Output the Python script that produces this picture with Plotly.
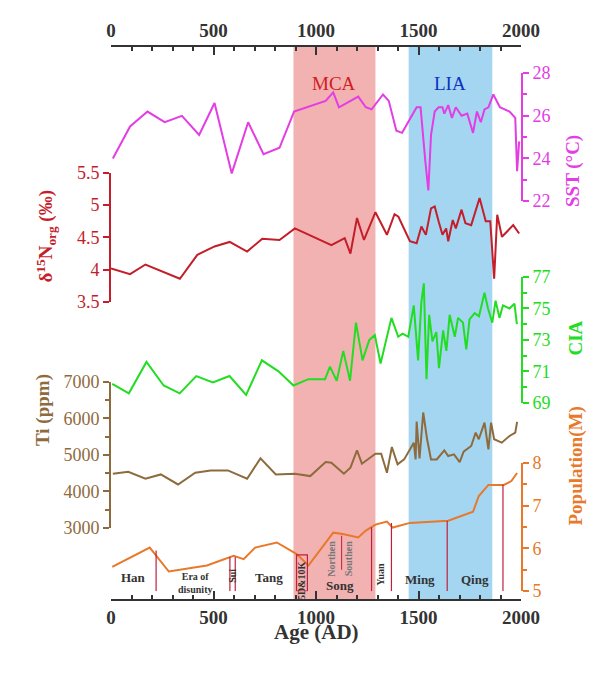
import plotly.graph_objects as go

sst_year = [9,93,178,262,346,430,505,589,669,744,822,893,1047,1084,1112,1206,1243,1271,1327,1355,1392,1420,1491,1510,1533,1548,1561,1579,1598,1617,1626,1645,1663,1682,1710,1738,1766,1785,1804,1822,1841,1865,1897,1944,1972,1981,1991]
sst_val = [24.0,25.5,26.2,25.7,26.0,25.1,26.6,23.3,25.7,24.2,24.5,26.2,26.7,27.1,26.4,26.9,26.4,26.3,27.0,26.7,25.3,25.2,26.4,26.4,23.9,22.5,25.1,26.2,26.4,26.4,26.1,26.5,25.9,26.4,26.0,26.1,25.2,26.2,25.7,26.3,26.4,27.0,26.4,26.2,25.9,23.4,24.8]

n_year = [0,93,168,336,421,505,579,664,738,822,897,1075,1140,1168,1200,1234,1290,1346,1383,1402,1458,1491,1514,1536,1561,1579,1598,1617,1635,1645,1667,1682,1710,1729,1757,1798,1828,1850,1869,1884,1907,1962,1991]
n_val = [4.02,3.93,4.08,3.86,4.23,4.36,4.43,4.28,4.48,4.46,4.64,4.38,4.49,4.25,4.80,4.46,4.89,4.54,4.86,4.82,4.44,4.41,4.67,4.54,4.95,4.98,4.75,4.54,4.64,4.44,4.77,4.64,4.93,4.72,4.69,5.11,4.75,4.75,3.86,4.85,4.51,4.69,4.56]

cia_year = [6,87,173,257,335,416,497,578,659,736,817,890,963,1044,1068,1101,1133,1166,1195,1227,1260,1287,1315,1368,1401,1422,1450,1477,1498,1514,1526,1539,1552,1568,1587,1600,1620,1636,1652,1677,1693,1717,1733,1749,1774,1795,1822,1839,1860,1876,1895,1912,1944,1968,1980]
cia_val = [70.2,69.6,71.6,70.1,69.6,70.7,70.3,70.7,69.5,71.7,71.0,70.1,70.5,70.5,71.3,70.4,72.3,70.4,74.1,71.7,73.0,73.3,71.5,74.4,73.2,73.4,73.2,75.2,71.7,75.4,76.6,70.5,74.6,72.9,73.5,71.2,73.6,72.3,74.6,73.2,74.4,74.1,72.4,74.3,74.7,74.5,76.0,75.0,74.1,75.5,74.4,75.2,75.0,75.3,74.0]

ti_year = [9,84,168,243,327,411,486,570,664,729,804,897,972,1047,1075,1136,1168,1200,1224,1290,1318,1346,1370,1398,1430,1477,1486,1491,1505,1523,1542,1561,1589,1626,1645,1673,1701,1720,1757,1779,1794,1822,1841,1854,1869,1906,1944,1972,1981]
ti_val = [4483,4538,4346,4465,4190,4510,4575,4575,4346,4904,4465,4483,4419,4803,4785,4483,4648,5124,4758,5032,5032,4510,5215,4739,4876,5334,4876,5911,4904,6158,5426,4876,4876,5124,4968,5014,4803,5087,5243,5609,5426,5883,5151,5883,5426,5334,5517,5609,5902]

pop_year = [6,189,282,468,598,647,703,809,906,963,1084,1131,1206,1243,1290,1346,1374,1458,1645,1766,1794,1841,1916,1953,1981]
pop_val = [5.57,6.02,5.46,5.60,5.83,5.75,6.02,6.14,5.87,5.60,6.37,6.34,6.26,6.42,6.56,6.63,6.49,6.60,6.65,6.86,7.23,7.49,7.49,7.58,7.77]

dyn_line_year = [220,580,606,1271,1368,1640,1912]
dyn_line_top = [5.95,5.80,5.80,6.50,6.60,6.65,7.50]
dyn_labels = ["Han","Era of<br>disunity","Sui","Tang","5D&10K","Song","Northen","Southen","Yuan","Ming","Qing"]
dyn_label_year = [111,411,593,773,930,1117,1076,1157,1311,1506,1774]
dyn_label_y = [5.33,5.18,5.35,5.33,5.25,5.14,5.75,5.75,5.40,5.28,5.28]
dyn_label_angle = [0,0,-90,0,-90,0,-90,-90,-90,0,0]
dyn_label_size = [13,10,10,13,10,13,10,10,10,13,13]
dyn_label_color = ["#333","#333","#333","#333","#333","#333","#777","#777","#333","#333","#333"]

SERIF = "Liberation Serif"
C_SST, C_N, C_CIA, C_TI, C_POP = "#E33DE3", "#C41E2A", "#22DD22", "#8E6B3D", "#E8782A"

fig = go.Figure()
fig.add_trace(go.Scatter(x=sst_year, y=sst_val, yaxis="y", mode="lines", line=dict(color=C_SST, width=2)))
fig.add_trace(go.Scatter(x=n_year, y=n_val, yaxis="y2", mode="lines", line=dict(color=C_N, width=2)))
fig.add_trace(go.Scatter(x=cia_year, y=cia_val, yaxis="y3", mode="lines", line=dict(color=C_CIA, width=2)))
fig.add_trace(go.Scatter(x=ti_year, y=ti_val, yaxis="y4", mode="lines", line=dict(color=C_TI, width=2)))
fig.add_trace(go.Scatter(x=pop_year, y=pop_val, yaxis="y5", mode="lines", line=dict(color=C_POP, width=2)))
fig.add_trace(go.Scatter(x=[0, 2000], y=[None, None], xaxis="x2", mode="lines", showlegend=False))

shapes = [
    dict(type="rect", xref="x", yref="paper", x0=890, x1=1290, y0=0, y1=1, fillcolor="#F2B2B2", line_width=0, layer="below"),
    dict(type="rect", xref="x", yref="paper", x0=1452, x1=1860, y0=0, y1=1, fillcolor="#A4D6F2", line_width=0, layer="below"),
]
for yr, top in zip(dyn_line_year, dyn_line_top):
    shapes.append(dict(type="line", xref="x", yref="y5", x0=yr, x1=yr, y0=5.0, y1=top, line=dict(color="#C0203A", width=1.2)))
shapes.append(dict(type="rect", xref="x", yref="y5", x0=905, x1=958, y0=5.0, y1=5.85, line=dict(color="#C0203A", width=1.2)))
shapes.append(dict(type="line", xref="x", yref="y5", x0=1125, x1=1125, y0=5.5, y1=6.3, line=dict(color="#C0203A", width=1)))

ann = [
    dict(text="MCA", x=1090, y=0.955, xref="x", yref="paper", showarrow=False, font=dict(family=SERIF, size=19, color="#D02020")),
    dict(text="LIA", x=1655, y=0.955, xref="x", yref="paper", showarrow=False, font=dict(family=SERIF, size=19, color="#1030C0")),
    dict(text="<b>SST (°C)</b>", x=578, y=125, showarrow=False, textangle=-90, font=dict(family=SERIF, size=19, color=C_SST)),
    dict(text="<b>δ<sup>15</sup>N<sub>org</sub> (‰)</b>", x=22, y=228, showarrow=False, textangle=-90, font=dict(family=SERIF, size=19, color=C_N)),
    dict(text="<b>CIA</b>", x=580, y=330, showarrow=False, textangle=-90, font=dict(family=SERIF, size=19, color=C_CIA)),
    dict(text="<b>Ti (ppm)</b>", x=22, y=440, showarrow=False, textangle=-90, font=dict(family=SERIF, size=19, color=C_TI)),
    dict(text="<b>Population(M)</b>", x=580, y=520, showarrow=False, textangle=-90, font=dict(family=SERIF, size=19, color=C_POP)),
    dict(text="<b>Age (AD)</b>", x=308, y=638, showarrow=False, font=dict(family=SERIF, size=21, color="#333")),
]
for a in ann[2:]:
    a["xref"] = "paper"; a["yref"] = "paper"
    a["x"] = (a["x"] - 103) / 410
    a["y"] = (592 - a["y"]) / 554
for t, yr, yv, ang, sz, col in zip(dyn_labels, dyn_label_year, dyn_label_y, dyn_label_angle, dyn_label_size, dyn_label_color):
    ann.append(dict(text="<b>" + t + "</b>", x=yr, y=yv, xref="x", yref="y5", showarrow=False, textangle=ang,
                    font=dict(family=SERIF, size=sz, color=col)))

def yax(color, dom, rng, dtick, side, minor=None):
    d = dict(domain=dom, range=rng, dtick=dtick, tick0=rng[0], side=side, anchor="x", automargin=False,
             showline=True, linecolor=color, linewidth=2, ticks="outside", tickcolor=color, tickwidth=2, ticklen=6,
             tickfont=dict(family=SERIF, size=18, color=color), showgrid=False, zeroline=False, fixedrange=True)
    if minor:
        d["minor"] = dict(dtick=minor, ticks="outside", ticklen=4, tickcolor=color, tickwidth=2)
    return d

xcommon = dict(range=[0, 2000], dtick=500, showline=True, linecolor="#333", linewidth=2, ticks="inside", ticklen=8,
               tickwidth=2, tickcolor="#333", minor=dict(dtick=100, ticks="inside", ticklen=4, tickcolor="#333"),
               tickfont=dict(family=SERIF, size=19, color="#333"), tickprefix="<b>", ticksuffix="</b>",
               showgrid=False, zeroline=False, anchor="free", automargin=False)

fig.update_layout(
    width=600, height=679, margin=dict(l=103, r=87, t=38, b=87, autoexpand=False),
    paper_bgcolor="white", plot_bgcolor="rgba(0,0,0,0)", showlegend=False,
    shapes=shapes, annotations=ann,
    xaxis=dict(**xcommon, position=0),
    xaxis2=dict(**xcommon, side="top", overlaying="x", position=1),
    yaxis=yax(C_SST, [0.720, 0.951], [22, 28], 2, "right", 1),
    yaxis2=yax(C_N, [0.538, 0.771], [3.5, 5.5], 0.5, "left"),
    yaxis3=yax(C_CIA, [0.356, 0.583], [69, 77], 2, "right", 1),
    yaxis4=yax(C_TI, [0.130, 0.394], [3000, 7000], 1000, "left", 500),
    yaxis5=yax(C_POP, [0.016, 0.247], [5, 8], 1, "right", 0.5),
)
fig.write_html("out.html")
